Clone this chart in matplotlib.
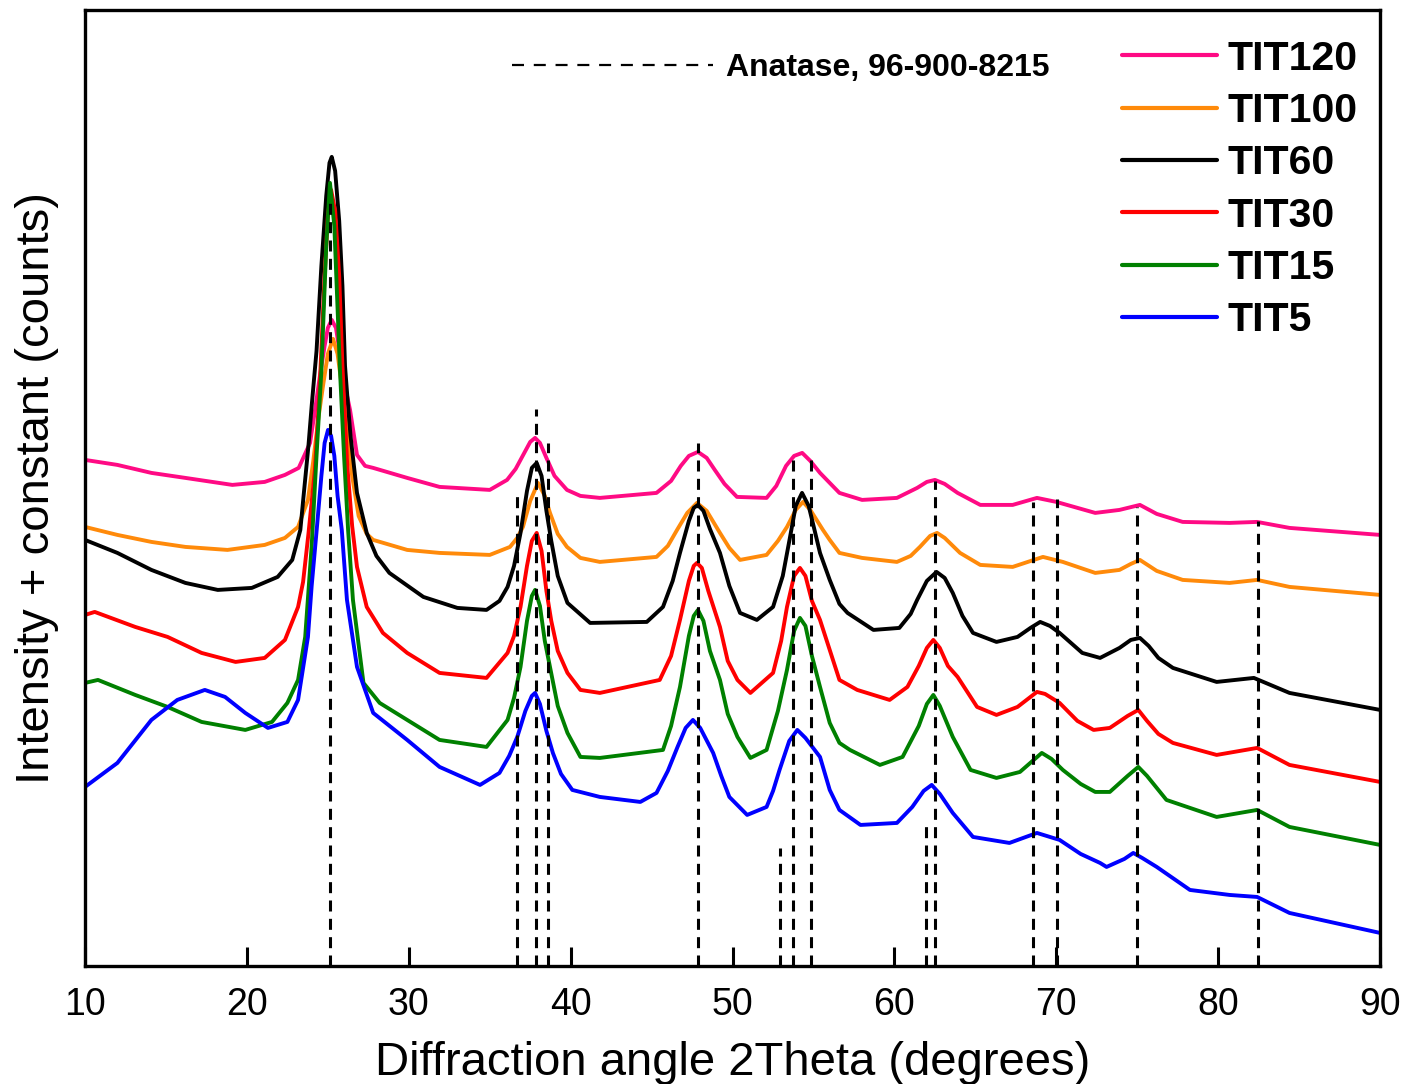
import matplotlib
matplotlib.use("Agg")
import matplotlib.pyplot as plt
from matplotlib.lines import Line2D

# ---------------- data ----------------
tit120_x = [10.0, 12.0, 14.1, 16.2, 19.1, 21.1, 22.35, 23.2, 23.9, 24.2, 24.5, 24.8, 25.0, 25.24,
            25.5, 25.75, 25.94, 26.37, 26.8, 27.3, 27.8, 29.9, 31.9, 35.0, 36.07, 36.6, 37.1, 37.5,
            37.8, 38.1, 38.5, 39.0, 39.77, 40.6, 41.8, 45.3, 46.2, 46.8, 47.3, 47.86, 48.4, 48.9,
            49.5, 50.27, 52.1, 52.7, 53.3, 53.8, 54.3, 54.8, 55.4, 56.0, 56.6, 58.0, 60.15, 61.4,
            62.0, 62.5, 63.1, 63.9, 65.3, 67.3, 68.8, 70.0, 72.4, 73.9, 75.16, 76.2, 77.8, 80.7,
            82.4, 84.4, 90.0]
tit120_y = [506, 501, 493, 488, 481, 484, 491, 498, 523, 555, 589, 620, 638, 646,
            638, 612, 589, 556, 511, 500, 498, 488, 479, 476, 486, 497, 512, 524,
            528, 523, 508, 490, 476, 470, 468, 473, 485, 500, 510, 514, 508, 496,
            482, 469, 468, 480, 500, 510, 513, 505, 493, 483, 473, 466, 468, 478,
            484, 486, 482, 473, 461, 461, 468, 464, 453, 456, 461, 452, 444, 443,
            444, 438, 431]

tit100_x = [10.0, 12.0, 14.1, 16.2, 18.8, 21.1, 22.35, 23.16, 23.77, 24.1, 24.4, 24.7, 25.0, 25.32,
            25.6, 25.9, 26.2, 26.5, 26.9, 27.4, 27.8, 29.9, 31.9, 35.0, 36.25, 36.7, 37.05, 37.5,
            37.98, 38.4, 38.72, 39.2, 39.77, 40.6, 41.8, 45.3, 46.0, 46.57, 47.2, 47.8, 48.4, 49.22,
            49.8, 50.46, 52.1, 52.8, 53.36, 53.9, 54.35, 54.8, 55.58, 56.0, 56.6, 58.0, 60.15, 61.0,
            61.57, 62.2, 62.63, 63.1, 64.05, 65.3, 67.3, 69.17, 70.4, 72.4, 73.9, 74.6, 75.16, 76.2,
            77.8, 80.7, 82.4, 84.4, 90.0]
tit100_y = [439, 431, 424, 419, 416, 421, 428, 439, 466, 505, 546, 580, 612, 627,
            612, 575, 535, 490, 450, 432, 426, 416, 413, 411, 419, 428, 439, 465,
            483, 470, 453, 432, 419, 408, 404, 409, 420, 436, 453, 463, 455, 433,
            418, 406, 411, 425, 439, 456, 464, 456, 436, 426, 413, 408, 404, 410,
            419, 430, 433, 428, 413, 401, 399, 409, 404, 393, 396, 402, 406, 395,
            386, 383, 386, 379, 371]

tit60_x = [10.0, 12.0, 14.1, 16.2, 18.2, 20.3, 21.9, 22.8, 23.3, 23.5, 23.8, 24.0, 24.3, 24.6,
           24.9, 25.1, 25.24, 25.45, 25.7, 25.9, 26.06, 26.2, 26.4, 26.8, 27.4, 28.0, 28.8, 30.9,
           33.0, 34.8, 35.6, 36.1, 36.5, 36.9, 37.3, 37.6, 37.9, 38.2, 38.5, 38.8, 39.2, 39.8,
           41.2, 44.7, 45.7, 46.3, 46.75, 47.3, 47.6, 47.86, 48.2, 48.6, 49.22, 49.8, 50.46, 51.5,
           52.5, 53.1, 53.55, 53.9, 54.29, 54.7, 55.0, 55.4, 56.0, 56.6, 57.1, 58.7, 60.3, 61.0,
           61.4, 62.0, 62.6, 63.1, 63.6, 64.2, 64.85, 66.3, 67.6, 68.4, 69.0, 69.6, 70.2, 71.6,
           72.7, 73.9, 74.6, 75.16, 75.7, 76.3, 77.2, 79.9, 82.2, 84.4, 90.0]
tit60_y = [426, 413, 396, 383, 376, 378, 389, 406, 436, 470, 520, 560, 615, 700,
           770, 803, 809, 795, 745, 680, 600, 570, 530, 473, 433, 410, 393, 369,
           358, 356, 365, 379, 400, 433, 475, 498, 503, 490, 455, 425, 390, 363,
           343, 344, 359, 385, 413, 445, 458, 461, 455, 437, 413, 380, 353, 346,
           359, 390, 429, 460, 473, 460, 440, 413, 386, 362, 353, 336, 338, 352,
           366, 385, 394, 388, 373, 350, 333, 324, 329, 338, 344, 340, 333, 313,
           308, 318, 326, 328, 320, 308, 298, 284, 288, 273, 256]

tit30_x = [10.0, 10.6, 13.1, 15.1, 17.2, 19.3, 21.1, 22.35, 23.16, 23.47, 23.8, 24.2, 24.5, 24.8,
           25.0, 25.2, 25.45, 25.7, 25.9, 26.2, 26.5, 26.8, 27.4, 28.4, 29.9, 31.9, 34.8, 36.1,
           36.5, 36.9, 37.3, 37.6, 37.9, 38.2, 38.5, 38.8, 39.2, 39.8, 40.6, 41.8, 45.5, 46.2,
           46.75, 47.3, 47.6, 47.8, 48.1, 48.5, 49.22, 49.7, 50.3, 51.1, 52.5, 53.0, 53.36, 53.8,
           54.16, 54.5, 54.9, 55.4, 56.0, 56.6, 57.7, 59.7, 60.8, 61.5, 62.0, 62.4, 62.8, 63.3,
           63.9, 65.1, 66.3, 67.6, 68.8, 69.3, 70.2, 71.3, 72.3, 73.3, 74.4, 75.06, 75.6, 76.3,
           77.2, 79.9, 82.4, 84.4, 90.0]
tit30_y = [351, 354, 339, 329, 313, 304, 308, 326, 359, 384, 432, 496, 580, 690,
           750, 776, 755, 690, 600, 500, 440, 399, 359, 333, 313, 293, 288, 313,
           330, 359, 400, 425, 433, 415, 375, 345, 315, 293, 276, 273, 286, 310,
           346, 385, 400, 403, 398, 375, 339, 305, 286, 273, 293, 325, 359, 390,
           398, 390, 365, 346, 316, 286, 276, 266, 279, 300, 318, 326, 318, 300,
           289, 259, 251, 259, 274, 272, 263, 245, 236, 238, 250, 256, 245, 232,
           223, 211, 218, 201, 184]

tit15_x = [10.0, 10.8, 13.1, 15.1, 17.2, 19.9, 21.55, 22.5, 23.16, 23.6, 24.0, 24.3, 24.6, 24.9,
           25.13, 25.4, 25.75, 26.0, 26.25, 26.55, 27.2, 28.2, 29.9, 31.9, 34.8, 36.1, 36.5, 36.9,
           37.3, 37.6, 37.8, 38.1, 38.4, 38.72, 39.2, 39.8, 40.6, 41.8, 45.7, 46.2, 46.75, 47.3,
           47.6, 47.86, 48.2, 48.6, 49.22, 49.7, 50.3, 51.1, 52.1, 52.8, 53.36, 53.8, 54.16, 54.5,
           54.9, 55.4, 56.0, 56.6, 57.25, 59.1, 60.5, 61.5, 62.0, 62.4, 62.8, 63.6, 64.7, 66.3,
           67.75, 68.6, 69.1, 69.7, 70.4, 71.5, 72.4, 73.3, 74.4, 75.06, 75.6, 76.8, 79.9, 82.4,
           84.4, 90.0]
tit15_y = [283, 286, 271, 259, 244, 236, 244, 263, 286, 329, 420, 510, 595, 720,
           783, 740, 595, 510, 436, 366, 283, 263, 246, 226, 219, 246, 268, 299,
           345, 370, 376, 360, 325, 299, 260, 233, 209, 208, 216, 240, 279, 330,
           350, 356, 345, 315, 286, 252, 229, 208, 216, 255, 296, 335, 348, 340,
           310, 279, 243, 223, 216, 201, 209, 240, 262, 271, 260, 229, 196, 188,
           194, 206, 213, 207, 196, 182, 174, 174, 190, 199, 190, 166, 149, 156,
           139, 121]

tit5_x = [10.0, 12.0, 14.1, 15.7, 17.4, 18.65, 19.9, 21.3, 22.5, 23.16, 23.77, 24.0, 24.31, 24.6,
          24.8, 25.01, 25.2, 25.4, 25.6, 25.86, 26.18, 26.8, 27.8, 29.9, 31.9, 34.4, 35.6, 36.2,
          36.7, 37.2, 37.6, 37.8, 38.1, 38.5, 38.9, 39.4, 40.1, 41.8, 44.3, 45.3, 46.0, 46.6,
          47.1, 47.55, 48.0, 48.8, 49.3, 49.8, 50.9, 52.1, 52.5, 52.9, 53.5, 54.0, 54.5, 55.4,
          56.0, 56.6, 57.9, 60.15, 61.1, 61.8, 62.3, 62.8, 63.6, 64.85, 67.1, 68.8, 70.2, 71.5,
          72.7, 73.1, 74.2, 74.75, 75.3, 76.2, 78.25, 80.7, 82.4, 84.4, 90.0]
tit5_y = [179, 203, 246, 266, 276, 269, 253, 238, 244, 266, 329, 380, 436, 490,
          523, 536, 530, 510, 470, 436, 366, 299, 253, 226, 199, 181, 193, 210,
          229, 255, 270, 273, 262, 235, 213, 192, 176, 169, 164, 173, 195, 219,
          238, 246, 238, 213, 190, 169, 151, 159, 175, 196, 225, 236, 228, 209,
          176, 156, 141, 143, 159, 175, 181, 172, 153, 129, 123, 133, 126, 112,
          103, 99, 107, 113, 108, 99, 76, 71, 69, 53, 33]

series_labels = ["TIT120", "TIT100", "TIT60", "TIT30", "TIT15", "TIT5"]
series_colors = ["#ff0a84", "#ff8a0a", "#000000", "#ff0000", "#008000", "#0000ff"]
series_x = [tit120_x, tit100_x, tit60_x, tit30_x, tit15_x, tit5_x]
series_y = [tit120_y, tit100_y, tit60_y, tit30_y, tit15_y, tit5_y]

# Anatase reference card 96-900-8215: peak positions and drawn stick heights
anatase_pos = [25.13, 36.68, 37.86, 38.60, 47.85, 52.93, 53.75, 54.85, 61.93, 62.52,
               68.57, 70.06, 74.95, 82.45]
anatase_hgt = [766, 475, 557, 523, 523, 118, 511, 513, 143, 485,
               464, 467, 459, 445]

# ---------------- figure ----------------
plt.rcParams['font.family'] = ['Liberation Sans', 'DejaVu Sans']
fig = plt.figure(figsize=(14.17, 10.84), dpi=100)
ax = fig.add_axes([0.060, 0.1089, 0.914, 0.882])

handles = []
for xs, ys, c, lab in zip(series_x, series_y, series_colors, series_labels):
    h, = ax.plot(xs, ys, color=c, lw=2.8, label=lab, solid_joinstyle='round',
                 solid_capstyle='round', zorder=2)
    handles.append(h)

ax.vlines(anatase_pos, 0, anatase_hgt, colors='black', linestyles=(0, (3.6, 2.4)),
          lw=2.2, zorder=3)

ax.set_xlim(10, 90)
ax.set_ylim(0, 956)
ax.set_xticks(range(10, 91, 10))
ax.set_yticks([])
ax.tick_params(axis='x', direction='in', length=14, width=2.2, labelsize=27, pad=15)
for s in ax.spines.values():
    s.set_linewidth(2.4)

ax.set_xlabel("Diffraction angle 2Theta (degrees)", fontsize=34, labelpad=13)
ax.set_ylabel("Intensity + constant (counts)", fontsize=34, labelpad=19)

leg = ax.legend(handles=handles, loc='upper left', bbox_to_anchor=(0.8008, 0.969),
                frameon=False, prop={'weight': 'bold', 'size': 29.5},
                handlelength=2.32, handletextpad=0.25, labelspacing=0.35,
                borderaxespad=0.0, borderpad=0.0)
for ln in leg.get_lines():
    ln.set_linewidth(3.0)
ax.add_artist(leg)

ref_handle = Line2D([], [], color='black', lw=1.6, linestyle=(0, (5.4, 4.4)))
leg2 = ax.legend(handles=[ref_handle], labels=["Anatase, 96-900-8215"], loc='upper left',
                 bbox_to_anchor=(0.3297, 0.955), frameon=False,
                 prop={'weight': 'bold', 'size': 23}, handlelength=6.3, handletextpad=0.4,
                 borderaxespad=0.0, borderpad=0.0)

fig.savefig("out.png", dpi=100)
